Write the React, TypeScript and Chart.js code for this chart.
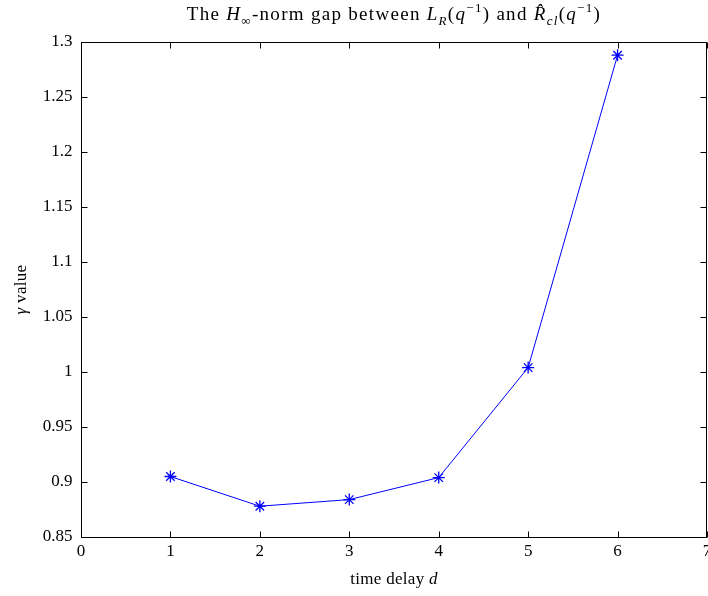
import React, { useEffect, useRef } from 'react';
import { Chart, registerables } from 'chart.js';
Chart.register(...registerables);

const delays = [1, 2, 3, 4, 5, 6];
const gammaValues = [0.905, 0.878, 0.884, 0.904, 1.004, 1.288];
const xTicks = [0, 1, 2, 3, 4, 5, 6, 7];
const yTicks = [0.85, 0.9, 0.95, 1, 1.05, 1.1, 1.15, 1.2, 1.25, 1.3];
const FONT = '"Liberation Serif", "DejaVu Serif", serif';

type Seg = { t: string; it?: boolean; sub?: boolean; sup?: boolean };
const titleSegs: Seg[] = [
  { t: 'The ' },
  { t: 'H', it: true },
  { t: '\u221E', sub: true },
  { t: '-norm gap between ' },
  { t: 'L', it: true },
  { t: 'R', it: true, sub: true },
  { t: '(' },
  { t: 'q', it: true },
  { t: '\u22121', sup: true },
  { t: ') and ' },
  { t: 'R\u0302', it: true },
  { t: 'cl', it: true, sub: true },
  { t: '(' },
  { t: 'q', it: true },
  { t: '\u22121', sup: true },
  { t: ')' },
];

function drawSegs(ctx: CanvasRenderingContext2D, segs: Seg[], cx: number, y: number, size: number, spacing = 0) {
  const small = Math.round(size * 0.7);
  const fontOf = (s: Seg) => `${s.it ? 'italic ' : ''}${s.sub || s.sup ? small : size}px ${FONT}`;
  (ctx as any).letterSpacing = `${spacing}px`;
  let total = 0;
  for (const s of segs) { ctx.font = fontOf(s); total += ctx.measureText(s.t).width; }
  let x = cx - total / 2;
  ctx.textAlign = 'left';
  ctx.textBaseline = 'alphabetic';
  for (const s of segs) {
    ctx.font = fontOf(s);
    const dy = s.sub ? size * 0.25 : s.sup ? -size * 0.4 : 0;
    ctx.fillText(s.t, x, y + dy);
    x += ctx.measureText(s.t).width;
  }
  (ctx as any).letterSpacing = '0px';
}

const framePlugin = {
  id: 'matlabFrame',
  afterDraw(chart: any) {
    const { ctx, chartArea: a, scales } = chart;
    const xs = scales.x, ys = scales.y;
    const L = Math.round(a.left) + 0.5, R = Math.round(a.right) - 0.5;
    const T = Math.round(a.top) + 0.5, B = Math.round(a.bottom) + 0.5;
    const tl = 6;
    ctx.save();
    ctx.strokeStyle = '#000';
    ctx.lineWidth = 1;
    ctx.beginPath();
    ctx.rect(L, T, R - L, B - T);
    for (const v of xTicks) {
      const px = Math.round(xs.getPixelForValue(v)) + 0.5;
      ctx.moveTo(px, B); ctx.lineTo(px, B - tl);
      ctx.moveTo(px, T); ctx.lineTo(px, T + tl);
    }
    for (const v of yTicks) {
      const py = Math.round(ys.getPixelForValue(v)) + 0.5;
      ctx.moveTo(L, py); ctx.lineTo(L + tl, py);
      ctx.moveTo(R, py); ctx.lineTo(R - tl, py);
    }
    ctx.stroke();
    ctx.fillStyle = '#000';
    ctx.font = `17px ${FONT}`;
    ctx.textAlign = 'center';
    ctx.textBaseline = 'top';
    for (const v of xTicks) {
      ctx.fillText(String(v), xs.getPixelForValue(v), B + 6);
    }
    ctx.textAlign = 'right';
    ctx.textBaseline = 'middle';
    for (const v of yTicks) {
      ctx.fillText(String(Math.round(v * 100) / 100), L - 9, ys.getPixelForValue(v));
    }
    const xc = (a.left + a.right) / 2;
    drawSegs(ctx, [{ t: 'time delay ' }, { t: 'd', it: true }], xc, 584, 17, 0.3);
    ctx.save();
    ctx.translate(26, (a.top + a.bottom) / 2);
    ctx.rotate(-Math.PI / 2);
    drawSegs(ctx, [{ t: '\u03B3', it: true }, { t: ' value' }], 0, 0, 17, 0.3);
    ctx.restore();
    drawSegs(ctx, titleSegs, xc, 20, 19, 1.3);
    ctx.restore();
  },
};

export default function App() {
  const ref = useRef<HTMLCanvasElement>(null);
  useEffect(() => {
    document.body.style.margin = '0';
    const chart = new Chart(ref.current!, {
      type: 'line',
      data: {
        datasets: [{
          data: delays.map((d, i) => ({ x: d, y: gammaValues[i] })),
          borderColor: '#0000ff',
          backgroundColor: '#0000ff',
          borderWidth: 1,
          pointStyle: 'star',
          pointRadius: 6,
          pointBorderWidth: 1.3,
          pointBorderColor: '#0000ff',
          tension: 0,
        }],
      },
      options: {
        responsive: false,
        animation: false,
        layout: { autoPadding: false, padding: { left: 81, top: 42, right: 1, bottom: 59 } },
        plugins: { legend: { display: false }, tooltip: { enabled: false } },
        scales: {
          x: { type: 'linear', min: 0, max: 7, display: false },
          y: { type: 'linear', min: 0.85, max: 1.3, display: false },
        },
      },
      plugins: [framePlugin],
    });
    return () => chart.destroy();
  }, []);
  return <canvas ref={ref} width={708} height={596} style={{ display: 'block' }} />;
}
